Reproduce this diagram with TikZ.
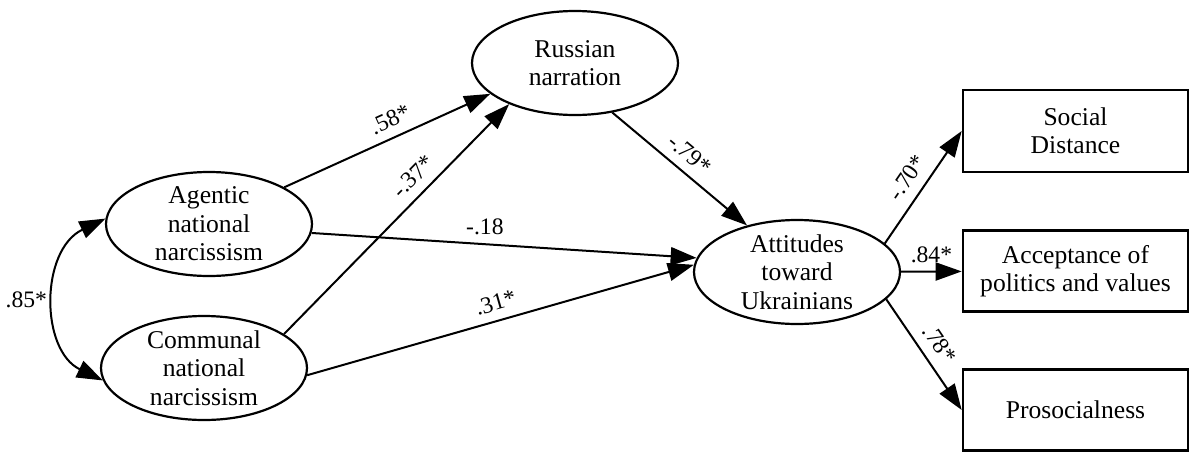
\documentclass[tikz,border=0pt]{standalone}
\usepackage{fontspec}
\setmainfont{Liberation Serif}
\usepackage{tikz}
\usetikzlibrary{arrows.meta,shapes.geometric}
\colorlet{figink}{black}

\begin{document}
\begin{tikzpicture}[
  x=0.5pt, y=-0.5pt,
  font=\fontsize{12.8}{14.2}\selectfont,
  latent/.style={draw=figink, ellipse, line width=1.1pt, minimum width=103pt, minimum height=52pt, inner sep=-6pt, align=center},
  observed/.style={draw=figink, rectangle, line width=1.3pt, minimum width=112.5pt, minimum height=40.5pt, inner sep=2pt, align=center},
  effect/.style={draw=figink, line width=1pt, -{Triangle[length=13pt,width=9pt]}},
  covar/.style={draw=figink, line width=1pt, {Triangle[length=13pt,width=9pt]}-{Triangle[length=13pt,width=9pt]}},
  coef/.style={font=\fontsize{11.8}{13}\selectfont, inner sep=2pt},
]
  \useasboundingbox (0,0) rectangle (1190,451);
  % latent variables
  \node[latent] (agentic) at (209,224) {Agentic\\national\\narcissism};
  \node[latent] (communal) at (204,368) {Communal\\national\\narcissism};
  \node[latent] (russian) at (575,63) {Russian\\narration};
  \node[latent] (attitudes) at (797,272) {Attitudes\\toward\\Ukrainians};
  % outcomes
  \node[observed, minimum height=41pt] (social) at (1075.5,131) {Social\\Distance};
  \node[observed] (accept) at (1075.5,271) {Acceptance of\\politics and values};
  \node[observed] (prosocial) at (1075.5,410) {Prosocialness};

  \draw[covar] (agentic.177) .. controls (40,250) and (40,350) .. (communal.187)
    node[coef, pos=0.5, left=2pt] {.85*};

  \draw[effect] (agentic.26) -- (russian.200) node[coef, sloped, above=2.5pt, pos=0.55] {.58*};
  \draw[effect] (communal.23) -- (russian.212) node[coef, sloped, above=2.5pt, pos=0.63] {-.37*};
  \draw[effect] (agentic.-5) -- (attitudes.172) node[coef, above=2pt, pos=0.45] {-.18};
  \draw[effect] (communal.-4) -- (attitudes.176) node[coef, sloped, above=2.5pt, pos=0.5] {.31*};
  \draw[effect] (russian.-53) -- (attitudes.137) node[coef, sloped, above=2.5pt, pos=0.49] {-.79*};

  \draw[effect] (attitudes.18) -- (social.west) node[coef, sloped, above=3pt, pos=0.49] {-.70*};
  \draw[effect] (attitudes) -- (accept) node[coef, above=2pt, pos=0.5] {.84*};
  \draw[effect] (attitudes.-17) -- (prosocial.west) node[coef, sloped, above=3pt, pos=0.5] {.78*};
\end{tikzpicture}
\end{document}
